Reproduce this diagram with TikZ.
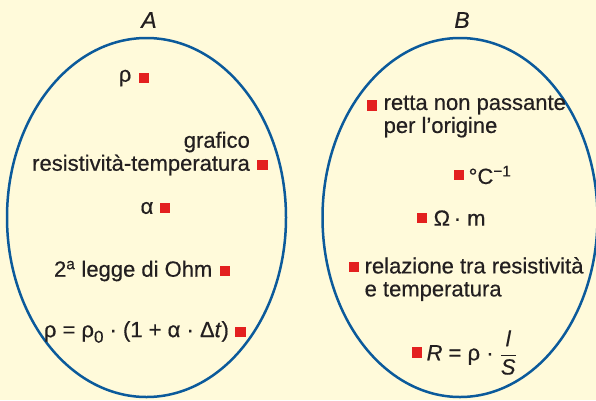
\documentclass[tikz,border=0pt]{standalone}
\usepackage{fontspec}
\usepackage{amsmath}
\setmainfont{Liberation Sans}[FakeBold=0.5]
\usetikzlibrary{positioning}
\definecolor{pagecream}{HTML}{FFFADA}
\definecolor{setblue}{HTML}{0B5A9B}
\definecolor{markred}{HTML}{E3201F}
\definecolor{textdark}{HTML}{231F20}
\newcommand{\figuretext}{\fontsize{22}{23}\selectfont}

\begin{document}
\begin{tikzpicture}[x=1pt,y=-1pt,font=\figuretext,
  markbox/.style={fill=markred,minimum size=10.5pt,inner sep=0pt},
  item/.style={inner sep=0pt,text=textdark}]
\useasboundingbox (0,0) rectangle (596,400);
\fill[pagecream] (0,0) rectangle (596,400);

% the two sets
\draw[setblue,line width=2.5pt] (146.5,217.5) ellipse [x radius=139.5,y radius=179.5];
\draw[setblue,line width=2.5pt] (460,217.5) ellipse [x radius=137.5,y radius=179.5];
\node[item,font=\fontsize{23}{24}\selectfont\itshape] (titleA) at (149,20) {A};
\node[item,font=\fontsize{23}{24}\selectfont\itshape] (titleB) at (462,20) {B};

% set A
\node[markbox] (sqA1) at (144,78) {};
\node[item,left=7pt of sqA1] (rho) {ρ};
\node[markbox] (sqA2) at (262.5,165) {};
\node[item,align=right,left=7pt of sqA2,anchor=south east,yshift=-10.5pt] (graph) {grafico\\resistività-temperatura};
\node[markbox] (sqA3) at (165,208) {};
\node[item,left=6pt of sqA3] (alpha) {α};
\node[markbox] (sqA4) at (225,271) {};
\node[item,left=7pt of sqA4] (ohmlaw) {2\textsuperscript{a} legge di Ohm};
\node[markbox] (sqA5) at (240.5,332) {};
\node[item,left=6pt of sqA5] (tempLaw) {ρ = ρ\raisebox{-0.25em}{\fontsize{17}{17}\selectfont 0} · (1 + α · Δ\textit{t})};

% set B
\node[markbox] (sqB1) at (372,105.5) {};
\node[item,align=left,right=6pt of sqB1,anchor=north west,yshift=10pt] (line) {retta non passante\\per l’origine};
\node[markbox] (sqB2) at (459,175) {};
\node[item,right=4pt of sqB2] (unitAlpha) {°C\textsuperscript{−1}};
\node[markbox] (sqB3) at (422,218) {};
\node[item,right=6pt of sqB3] (unitRho) {Ω\,· m};
\node[markbox] (sqB4) at (354,267) {};
\node[item,align=left,right=5pt of sqB4,anchor=north west,yshift=10pt] (relation) {relazione tra resistività\\e temperatura};
\node[markbox] (sqB5) at (417,352.5) {};
\node[item,right=4pt of sqB5] (secondLaw) {\textit{R} = ρ · $\dfrac{\textit{l}}{\textit{S}}$};
\end{tikzpicture}
\end{document}
